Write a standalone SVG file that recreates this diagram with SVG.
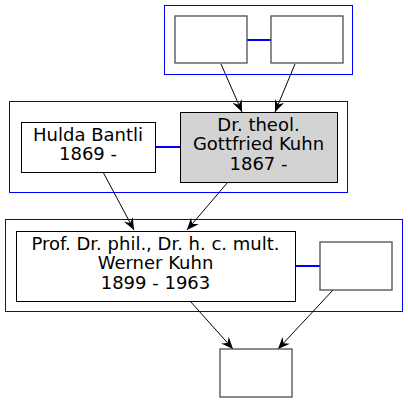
<svg xmlns="http://www.w3.org/2000/svg" width="408" height="403" viewBox="0 0 408 403">
<style>
.cl{fill:none;stroke:#0000ff;stroke-width:1}
.n{fill:#fff;stroke:#000;stroke-width:1}
.e{fill:#fff;stroke:#4d4d4d;stroke-width:1.3}
.g{fill:#d3d3d3;stroke:#000;stroke-width:1}
.m{stroke:#0000ff;stroke-width:2}
.a{stroke:#000;stroke-width:1;fill:none;marker-end:url(#ah)}
text{font-family:"DejaVu Sans",sans-serif;font-size:18px;text-anchor:middle;fill:#000}
</style>
<defs>
<marker id="ah" viewBox="0 0 12 10" refX="12" refY="5" markerWidth="12" markerHeight="10" markerUnits="userSpaceOnUse" orient="auto">
<path d="M0,0 L12,5 L0,10 L4,5 z" fill="#000"/>
</marker>
</defs>
<rect width="408" height="403" fill="#fff"/>
<g id="clusters">
<rect class="cl" x="164.5" y="5.5" width="188" height="69"/>
<rect class="cl" x="9.5" y="101.5" width="338" height="91"/>
<rect class="cl" x="5.5" y="219.5" width="397" height="92"/>
</g>
<g id="connectors">
<line class="m" x1="247" y1="40" x2="271" y2="40"/>
<line class="m" x1="155" y1="147" x2="180" y2="147"/>
<line class="m" x1="296" y1="266" x2="320" y2="266"/>
<line class="a" x1="221" y1="64" x2="242" y2="112"/>
<line class="a" x1="295" y1="64" x2="275" y2="112"/>
<line class="a" x1="103" y1="172" x2="134" y2="230"/>
<line class="a" x1="228" y1="182" x2="187" y2="230"/>
<line class="a" x1="190" y1="301" x2="233" y2="349"/>
<line class="a" x1="333" y1="290" x2="278" y2="349"/>
</g>
<g id="p1"><rect class="e" x="175" y="16" width="72" height="47"/></g>
<g id="p2"><rect class="e" x="271" y="16" width="72" height="47"/></g>
<g id="hulda"><rect class="n" x="21.5" y="122.5" width="134" height="50"/>
<text x="88" y="141">Hulda Bantli</text><text x="88" y="160">1869 -</text></g>
<g id="gottfried"><rect class="g" x="180.5" y="112.5" width="157" height="70"/>
<text x="258.5" y="131">Dr. theol.</text><text x="258.5" y="150">Gottfried Kuhn</text><text x="258.5" y="170">1867 -</text></g>
<g id="werner"><rect class="n" x="16.5" y="231.5" width="279" height="70"/>
<text x="155.5" y="250">Prof. Dr. phil., Dr. h. c. mult.</text><text x="155.5" y="269">Werner Kuhn</text><text x="155.5" y="289">1899 - 1963</text></g>
<g id="spouse"><rect class="e" x="320" y="242" width="72" height="48"/></g>
<g id="child"><rect class="e" x="220" y="349" width="72" height="48"/></g>
</svg>
